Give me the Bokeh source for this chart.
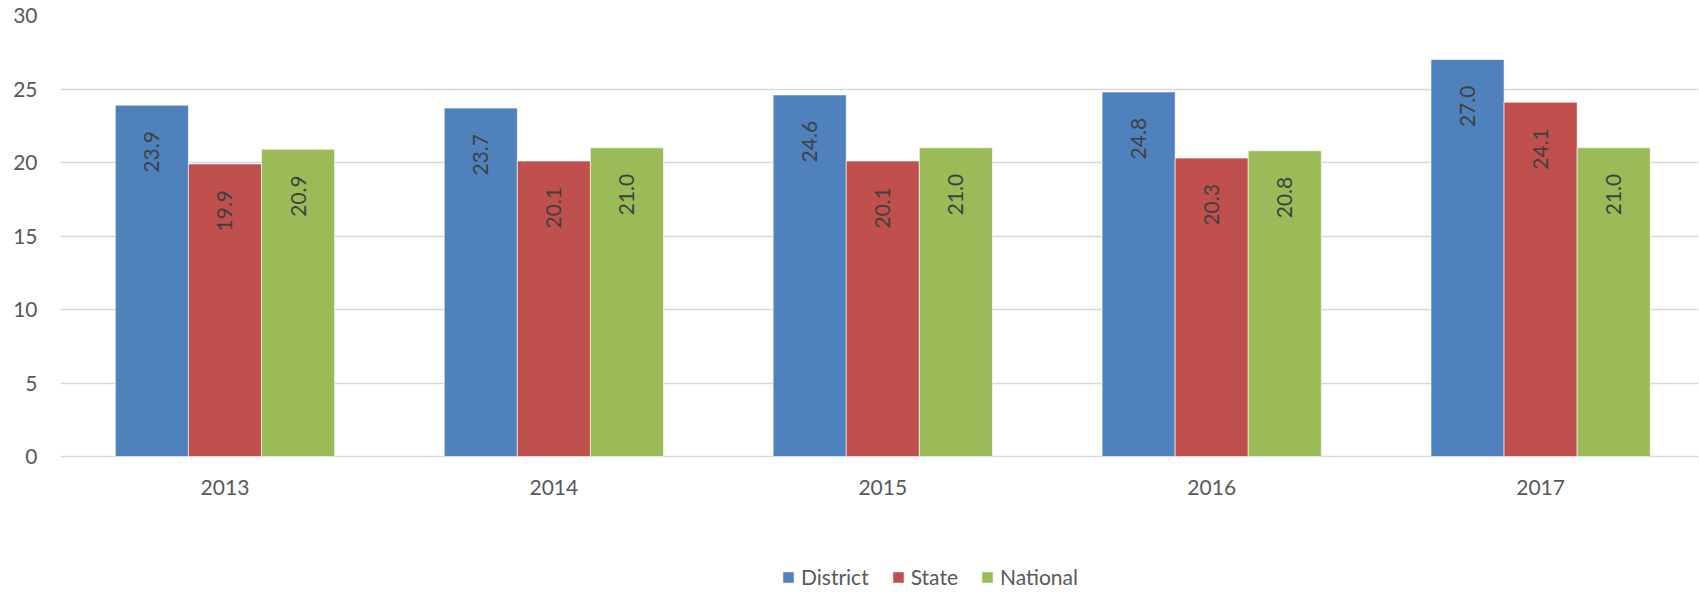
import math
from bokeh.plotting import figure
from bokeh.models import Range1d, FixedTicker, Legend, LegendItem, ColumnDataSource
from bokeh.core.properties import value
from bokeh.embed import file_html
from bokeh.resources import INLINE

categories = ["2013", "2014", "2015", "2016", "2017"]
district = [23.9, 23.7, 24.6, 24.8, 27.0]
state = [19.9, 20.1, 20.1, 20.3, 24.1]
national = [20.9, 21.0, 21.0, 20.8, 21.0]
y_ticks = [0, 5, 10, 15, 20, 25, 30]

series = [("District", district, "#4F81BD"),
          ("State", state, "#C0504D"),
          ("National", national, "#9BBB59")]

FONT = "Lato"
FS = "21px"
TXT = "#595959"

bar_w = 1.0 / 4.5
idx = list(range(len(categories)))

# frame spans the full lower area; the value axis keeps 14.7 px per unit
p = figure(width=1699, height=592, output_backend="svg", toolbar_location=None,
           x_range=Range1d(-0.5, 4.48), y_range=Range1d(-9.25, 30),
           min_border_left=60, min_border_right=1, min_border_top=15,
           min_border_bottom=0, background_fill_color="white",
           border_fill_color="white")
p.outline_line_color = None
p.xgrid.grid_line_color = None
p.ygrid.grid_line_color = "#D9D9D9"
p.ygrid.grid_line_width = 1.5
p.ygrid.ticker = FixedTicker(ticks=y_ticks)
p.xaxis.visible = False

p.yaxis.ticker = FixedTicker(ticks=y_ticks)
ax = p.yaxis
ax.axis_line_color = None
ax.major_tick_line_color = None
ax.minor_tick_line_color = None
ax.major_tick_out = 0
ax.major_tick_in = 0
ax.minor_tick_out = 0
ax.major_label_text_font = FONT
ax.major_label_text_font_size = FS
ax.major_label_text_color = TXT
ax.major_label_standoff = 23

# category labels under the zero line
cat_src = ColumnDataSource(dict(x=idx, y=[0] * len(idx), t=categories))
p.text(x="x", y="y", text="t", source=cat_src, text_align="center",
       text_baseline="middle", y_offset=31, text_font=value(FONT),
       text_font_size=FS, text_color=TXT)

items = []
for k, (name, vals, col) in enumerate(series):
    off = (k - 1) * bar_w
    xs = [i + off for i in idx]
    src = ColumnDataSource(dict(x=xs, top=vals, lab=["%.1f" % v for v in vals]))
    r = p.vbar(x="x", top="top", width=bar_w, bottom=0, source=src,
               fill_color=col, line_color="white", line_alpha=0.6, line_width=1)
    p.text(x="x", y="top", text="lab", source=src, angle=math.pi / 2,
           text_align="right", text_baseline="middle", y_offset=26,
           text_font=value(FONT), text_font_size=FS, text_color="#404040")
    items.append(LegendItem(label=name, renderers=[r]))

legend = Legend(items=items, orientation="horizontal", location=(721, 3),
                label_text_font=FONT, label_text_font_size=FS,
                label_text_color=TXT, glyph_width=14, glyph_height=14,
                label_height=14, label_standoff=6, spacing=22, padding=0,
                margin=0, border_line_color=None, background_fill_alpha=0)
p.add_layout(legend)

open("out.html", "w").write(file_html(p, INLINE))
